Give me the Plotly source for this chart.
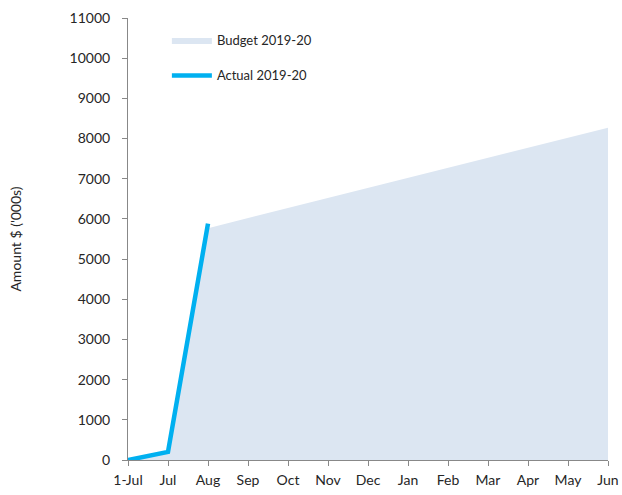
import plotly.graph_objects as go

months = ["1-Jul", "Jul", "Aug", "Sep", "Oct", "Nov", "Dec",
          "Jan", "Feb", "Mar", "Apr", "May", "Jun"]
budget = [0, 200, 5770, 6020, 6270, 6520, 6770, 7020, 7270, 7520, 7770, 8020, 8270]
actual_months = ["1-Jul", "Jul", "Aug"]
actual = [0, 200, 5880]

FONT = "Lato, Open Sans, sans-serif"

fig = go.Figure()
fig.add_trace(go.Scatter(
    x=months, y=budget, name="Budget 2019-20", mode="lines",
    fill="tozeroy", fillcolor="#DCE6F2", line=dict(width=0, color="#DCE6F2"),
    legend="legend", showlegend=True,
))
fig.add_trace(go.Scatter(
    x=actual_months, y=actual, name="Actual 2019-20", mode="lines",
    line=dict(width=4.5, color="#00B0F0"), legend="legend2", showlegend=True,
))

legend_common = dict(
    xanchor="left", yanchor="middle", bgcolor="rgba(0,0,0,0)",
    font=dict(family=FONT, size=13, color="#262626"), itemwidth=40,
)
fig.update_layout(
    width=622, height=495, showlegend=True,
    margin=dict(l=128, r=14, t=18, b=35, autoexpand=False),
    plot_bgcolor="white", paper_bgcolor="white",
    font=dict(family=FONT, size=14, color="#262626"),
    legend=dict(x=0.081, y=0.95, **legend_common),
    legend2=dict(x=0.081, y=0.87, **legend_common),
    xaxis=dict(
        type="category", range=[0, 12], showgrid=False, automargin=False,
        showline=True, linecolor="#888888", linewidth=1,
        ticks="outside", ticklen=5, tickcolor="#888888",
        tickfont=dict(size=14), ticklabelstandoff=2, fixedrange=True,
    ),
    yaxis=dict(
        range=[0, 11000], dtick=1000, tickformat="d", showgrid=False,
        zeroline=False, automargin=False,
        showline=True, linecolor="#888888", linewidth=1,
        ticks="outside", ticklen=5, tickcolor="#888888",
        tickfont=dict(size=14), ticklabelstandoff=9,
        title=dict(text="Amount $ ('000s)", font=dict(size=14), standoff=44),
    ),
)

fig.write_html("out.html", config={"displayModeBar": False},
               post_script="document.body.style.margin='0';")
